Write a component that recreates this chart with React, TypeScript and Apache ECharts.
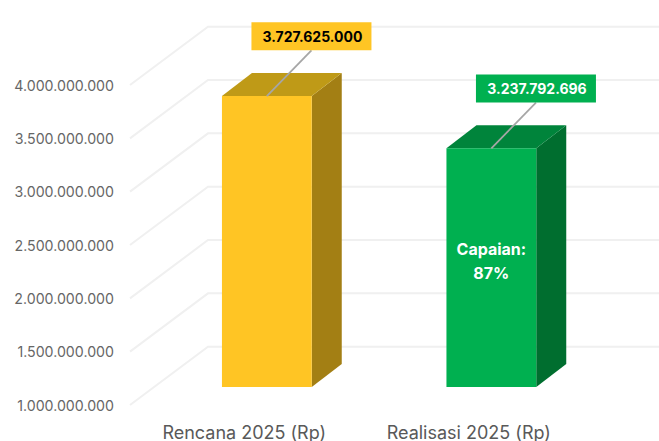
import React, { useEffect, useRef } from "react";
import * as echarts from "echarts";

const categories = ["Rencana 2025 (Rp)", "Realisasi 2025 (Rp)"];
const values = [3727625000, 3237792696];
const yTicks = [1000000000, 1500000000, 2000000000, 2500000000, 3000000000, 3500000000, 4000000000];
const frontColors = ["#FFC524", "#00B050"];
const sideColors = ["#A37F14", "#006E2F"];
const topColors = ["#BF9A17", "#00843B"];
const labelBoxColors = ["#FFC524", "#00B050"];
const labelTextColors = ["#000000", "#FFFFFF"];
const achievementLines = ["Capaian:", "87%"];

const fmt = (v: number) => String(Math.round(v)).replace(/\B(?=(\d{3})+(?!\d))/g, ".");

const FONT = "Inter, 'Liberation Sans', sans-serif";

export default function App() {
  const ref = useRef<HTMLDivElement>(null);
  useEffect(() => {
    document.body.style.margin = "0";
    const chart = echarts.init(ref.current!, undefined, { renderer: "svg" });
    chart.setOption({
      animation: false,
      backgroundColor: "#FFFFFF",
      grid: { left: 130, top: 85, width: 449, height: 320, containLabel: false },
      xAxis: {
        type: "category",
        data: categories,
        axisLine: { show: false },
        axisTick: { show: false },
        splitLine: { show: false },
        axisLabel: { color: "#595959", fontSize: 18, fontFamily: FONT, margin: 18, interval: 0, padding: [0, 0, 0, 4] },
      },
      yAxis: {
        type: "value",
        min: 1000000000,
        max: 4000000000,
        interval: 500000000,
        axisLine: { show: false },
        axisTick: { show: false },
        splitLine: { show: false },
        axisLabel: { color: "#666666", fontSize: 14.2, fontFamily: FONT, margin: 16, padding: [2, 0, 0, 0], formatter: (v: number) => fmt(v) },
      },
      series: [
        {
          type: "custom",
          silent: true,
          z: 1,
          data: yTicks.map((v) => [0, v]),
          encode: { x: 0, y: 1 },
          renderItem: (params: any, api: any) => {
            const y = api.coord([0, api.value(1)])[1];
            const x0 = params.coordSys.x;
            const x1 = x0 + 78;
            const x2 = x0 + params.coordSys.width + 80;
            return {
              type: "polyline",
              shape: { points: [[x0, y], [x1, y - 58.3], [x2, y - 58.3]] },
              style: { fill: "none", stroke: "#F0F0F0", lineWidth: 2 },
            };
          },
        },
        {
          type: "custom",
          silent: true,
          z: 2,
          data: values.map((v, i) => [i, v]),
          encode: { x: 0, y: 1 },
          renderItem: (params: any, api: any) => {
            const i = params.dataIndex;
            const v = api.value(1);
            const dx = 24.6;
            const dy = -18;
            const w = api.size([1, 0])[0] * 0.4;
            const d = 30;
            const e = 23;
            const [cx0, yTop0] = api.coord([i, v]);
            const yBase0 = api.coord([i, yTicks[0]])[1];
            const cx = cx0 + dx;
            const yTop = yTop0 + dy;
            const yBase = yBase0 + dy;
            const l = cx - w / 2;
            const r = cx + w / 2;
            const boxW = 120;
            const boxH = 28;
            const boxCx = cx + 44.6;
            const boxBottom = yTop - 45.7;
            const children: any[] = [
              { type: "polygon", shape: { points: [[r, yTop], [r + d, yTop - e], [r + d, yBase - e], [r, yBase]] }, style: { fill: sideColors[i] } },
              { type: "polygon", shape: { points: [[l, yTop], [l + d, yTop - e], [r + d, yTop - e], [r, yTop]] }, style: { fill: topColors[i] } },
              { type: "rect", shape: { x: l, y: yTop, width: w, height: yBase - yTop }, style: { fill: frontColors[i] } },
              { type: "line", shape: { x1: cx, y1: yTop, x2: boxCx, y2: boxBottom }, style: { stroke: "#A6A6A6", lineWidth: 1.8 } },
              { type: "rect", shape: { x: boxCx - boxW / 2, y: boxBottom - boxH, width: boxW, height: boxH }, style: { fill: labelBoxColors[i] } },
              {
                type: "text",
                x: boxCx + 1,
                y: boxBottom - boxH / 2,
                style: { text: fmt(v), fill: labelTextColors[i], font: `bold 14px ${FONT}`, align: "center", verticalAlign: "middle" },
              },
            ];
            if (i === 1) {
              achievementLines.forEach((t, k) => {
                children.push({
                  type: "text",
                  x: cx,
                  y: yTop + 101 + k * 24,
                  style: { text: t, fill: "#FFFFFF", font: `bold 16px ${FONT}`, align: "center", verticalAlign: "middle" },
                });
              });
            }
            return { type: "group", children };
          },
        },
      ],
    });
    return () => chart.dispose();
  }, []);
  return <div ref={ref} style={{ width: 659, height: 441 }} />;
}
